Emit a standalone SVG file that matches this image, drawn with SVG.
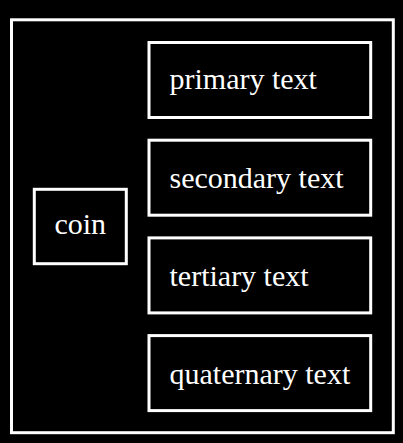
<svg xmlns="http://www.w3.org/2000/svg" width="403" height="443" viewBox="0 0 403 443">
  <style>
    .box { fill: #000; stroke: #fff; stroke-width: 3; }
    .lbl { fill: #fff; font-family: "Liberation Serif", "Times New Roman", serif; font-size: 30px; }
  </style>
  <rect x="0" y="0" width="403" height="443" fill="#000"/>
  <g id="container">
    <rect class="box" x="11.5" y="19.8" width="381.8" height="412.9"/>
  </g>
  <g id="coin">
    <rect class="box" x="34.3" y="189.3" width="92" height="74.4"/>
    <text class="lbl" x="80.3" y="234.3" text-anchor="middle">coin</text>
  </g>
  <g id="primary">
    <rect class="box" x="149" y="42.5" width="221.7" height="75"/>
    <text class="lbl" x="169.5" y="89.3">primary text</text>
  </g>
  <g id="secondary">
    <rect class="box" x="149" y="140.2" width="221.7" height="75"/>
    <text class="lbl" x="169.5" y="187.6">secondary text</text>
  </g>
  <g id="tertiary">
    <rect class="box" x="149" y="237.9" width="221.7" height="75"/>
    <text class="lbl" x="169.5" y="285.9">tertiary text</text>
  </g>
  <g id="quaternary">
    <rect class="box" x="149" y="335.6" width="221.7" height="75"/>
    <text class="lbl" x="169.5" y="384.2">quaternary text</text>
  </g>
  <g id="connectors"></g>
</svg>
